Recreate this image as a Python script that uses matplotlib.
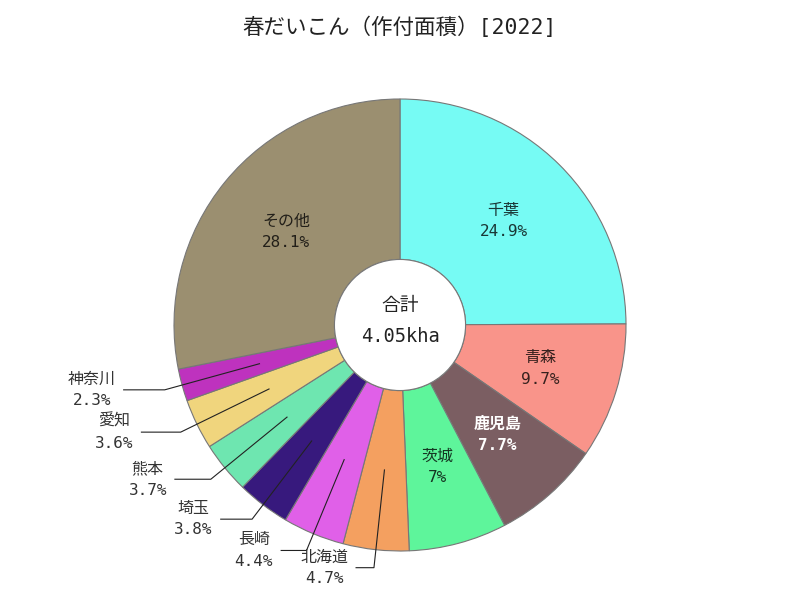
import numpy as np
import matplotlib
matplotlib.use("Agg")
import matplotlib.pyplot as plt
from matplotlib.colors import to_rgb

# monospace latin + CJK fallback, close to the gothic look of the original
plt.rcParams['font.family'] = ['DejaVu Sans Mono', 'Noto Sans CJK JP']

labels = ['千葉', '青森', '鹿児島', '茨城', '北海道', '長崎', '埼玉', '熊本', '愛知', '神奈川', 'その他']
shares = [24.9, 9.7, 7.7, 7, 4.7, 4.4, 3.8, 3.7, 3.6, 2.3, 28.1]
pct_text = ['24.9%', '9.7%', '7.7%', '7%', '4.7%', '4.4%', '3.8%', '3.7%', '3.6%', '2.3%', '28.1%']
colors = ['#76fbf4', '#f9948a', '#7b5e62', '#5ef59b', '#f4a060', '#e060e8',
          '#37197d', '#6ee6b0', '#f0d57d', '#be32be', '#9b8f70']
outside = ['北海道', '長崎', '埼玉', '熊本', '愛知', '神奈川']
total_text = '4.05kha'
title = '春だいこん（作付面積）[2022]'

R_PX = 226.0
fig = plt.figure(figsize=(8, 6), dpi=100)
ax = fig.add_axes([0, 0, 1, 1])

wedges, _ = ax.pie(shares, colors=colors, startangle=90, counterclock=False,
                   radius=1.0, center=(0, 0),
                   wedgeprops=dict(width=1 - 0.29, edgecolor='#777777', linewidth=0.8),
                   normalize=True)
ax.set_aspect('auto')
ax.set_xlim(-400 / R_PX, 400 / R_PX)
ax.set_ylim(-275 / R_PX, 325 / R_PX)
ax.axis('off')

# hole outline
ax.add_patch(plt.Circle((0, 0), 0.29, facecolor='white', edgecolor='#777777', linewidth=0.8))

for w, lab, pt, col in zip(wedges, labels, pct_text, colors):
    ang = np.deg2rad((w.theta1 + w.theta2) / 2)
    c, s = np.cos(ang), np.sin(ang)
    if lab in outside:
        x0, y0 = 0.645 * c, 0.645 * s
        x1, y1 = 1.08 * c, 1.08 * s
        hl = (15 + 27 * abs(c)) / R_PX
        x2 = x1 - hl
        ax.plot([x0, x1, x2], [y0, y1, y1], color='#222222', lw=0.8)
        ax.text(x2 - 8 / R_PX, y1, lab + '\n' + pt, ha='right', va='center',
                multialignment='center', fontsize=11.5, color='#333333',
                linespacing=1.55)
    else:
        rgb = np.array(to_rgb(col))
        tc = 'white' if lab == '鹿児島' else tuple(rgb * 0.22)
        ax.text(0.65 * c, 0.65 * s, lab + '\n' + pt, ha='center', va='center',
                fontsize=11.5, color=tc, linespacing=1.55,
                fontweight='bold' if lab == '鹿児島' else 'normal')

ax.text(0, 20 / R_PX, '合計', ha='center', va='center', fontsize=13.5, color='#222222')
ax.text(0, -12 / R_PX, total_text, ha='center', va='center', fontsize=13.5, color='#222222')

fig.suptitle(title, y=1 - 27 / 600, va='center', fontsize=15.5, color='#222222')

fig.savefig('out.png', dpi=100)
